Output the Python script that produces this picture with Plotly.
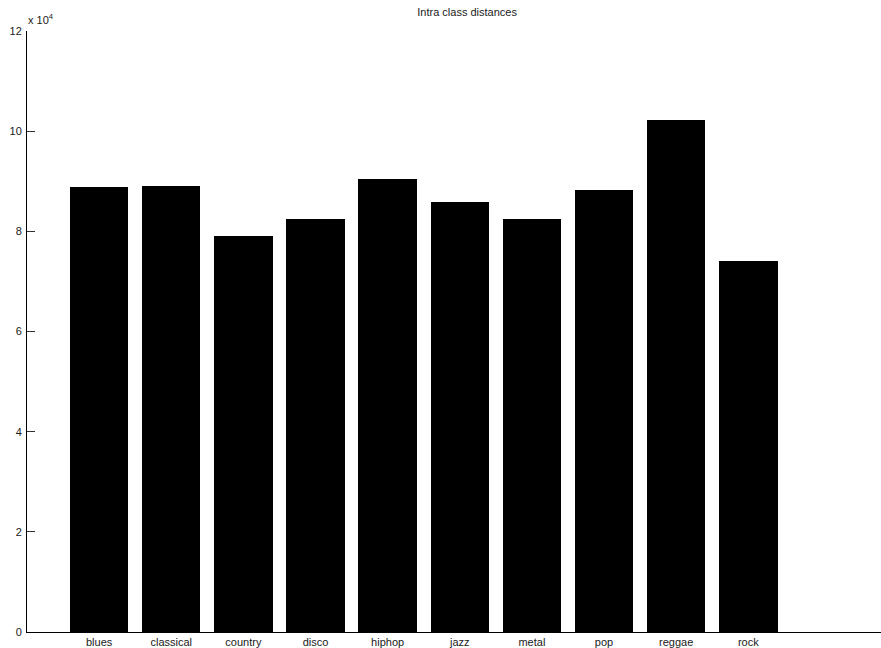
import plotly.graph_objects as go

categories = ["blues", "classical", "country", "disco", "hiphop", "jazz", "metal", "pop", "reggae", "rock"]
values = [8.89, 8.91, 7.91, 8.25, 9.05, 8.59, 8.25, 8.83, 10.22, 7.40]  # x 10^4
positions = list(range(1, len(categories) + 1))
y_ticks = [0, 2, 4, 6, 8, 10, 12]

font = dict(family="Liberation Sans, Arial, Helvetica, sans-serif", size=11, color="#1a1a1a")

fig = go.Figure(go.Bar(
    x=positions, y=values, width=0.81,
    marker=dict(color="black", line=dict(width=0)),
    showlegend=False,
))

fig.update_layout(
    width=881, height=648,
    margin=dict(l=27, r=0, t=31, b=16, autoexpand=False),
    plot_bgcolor="white", paper_bgcolor="white",
    font=font,
    title=dict(text="Intra class distances", x=(27 + 881) / 2 / 881, xanchor="center",
               xref="paper", y=1 - 12 / 648, yanchor="middle", font=dict(size=11),
               automargin=False),
    bargap=0,
    xaxis=dict(range=[0, 11.84], tickvals=positions, ticktext=categories,
               showgrid=False, zeroline=False, showline=True, linecolor="black", linewidth=1,
               ticks="", ticklabelstandoff=0, fixedrange=True, automargin=False),
    yaxis=dict(range=[0, 12], tickvals=y_ticks, ticktext=[str(v) for v in y_ticks],
               showgrid=False, zeroline=False, showline=True, linecolor="black", linewidth=1,
               ticks="inside", ticklen=8, tickcolor="#333", tickwidth=1,
               ticklabelstandoff=2, fixedrange=True, automargin=False),
    annotations=[dict(text="x 10<sup>4</sup>", xref="paper", yref="paper", x=0, y=1,
                      xanchor="left", yanchor="bottom", showarrow=False, xshift=-1, yshift=3,
                      font=dict(size=11))],
)

fig.write_html("out.html", config={"displayModeBar": False},
               post_script="document.body.style.margin='0';document.body.style.overflow='hidden';")
